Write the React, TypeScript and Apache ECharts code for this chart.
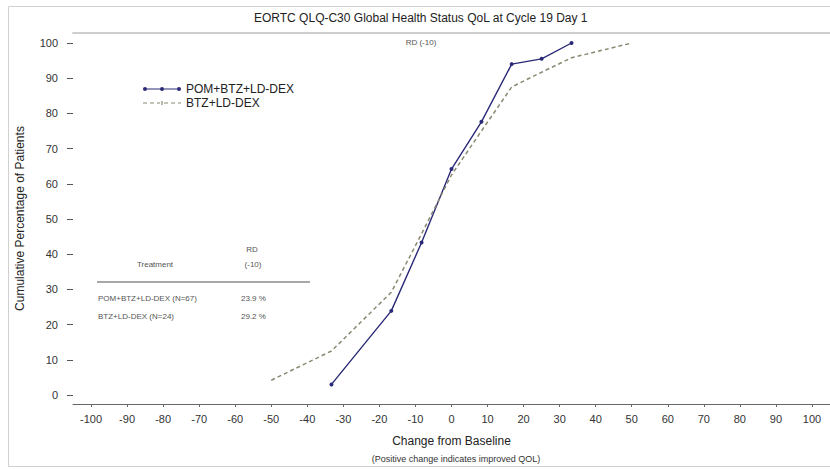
import React, { useEffect, useRef } from "react";
import * as echarts from "echarts";

const titleText = "EORTC QLQ-C30 Global Health Status QoL at Cycle 19 Day 1";
const seriesNames = ["POM+BTZ+LD-DEX", "BTZ+LD-DEX"];
const pomX = [-33.3, -16.7, -8.3, 0, 8.3, 16.7, 25, 33.3];
const pomY = [3.0, 23.9, 43.3, 64.2, 77.6, 94.0, 95.5, 100];
const btzX = [-50, -33.3, -16.7, -8.3, 0, 8.3, 16.7, 25, 33.3, 50];
const btzY = [4.2, 12.5, 29.2, 45.8, 62.5, 75.0, 87.5, 91.7, 95.8, 100];
const xTicks = [-100, -90, -80, -70, -60, -50, -40, -30, -20, -10, 0, 10, 20, 30, 40, 50, 60, 70, 80, 90, 100];
const yTicks = [0, 10, 20, 30, 40, 50, 60, 70, 80, 90, 100];
const tableHeader = ["Treatment", "RD", "(-10)"];
const tableRows = [
  ["POM+BTZ+LD-DEX (N=67)", "23.9 %"],
  ["BTZ+LD-DEX (N=24)", "29.2 %"],
];

const FONT = "Liberation Sans, Arial, sans-serif";
const SOLID = "#2a2a78";
const DASHED = "#8a8a72";

const dot = (cx: number, cy: number, r: number) =>
  `M${cx - r},${cy} a${r},${r} 0 1,1 ${2 * r},0 a${r},${r} 0 1,1 ${-2 * r},0 Z`;
const solidIcon =
  "path://M0,1.4 L38,1.4 L38,2.6 L0,2.6 Z " + dot(2, 2, 2) + " " + dot(19, 2, 2) + " " + dot(36, 2, 2);
const dashedIcon =
  "path://M0,1.4 L4,1.4 L4,2.6 L0,2.6 Z M7,1.4 L11,1.4 L11,2.6 L7,2.6 Z M14,1.4 L17,1.4 L17,2.6 L14,2.6 Z " +
  "M18.4,0 L19.6,0 L19.6,4 L18.4,4 Z M21,1.4 L25,1.4 L25,2.6 L21,2.6 Z M28,1.4 L32,1.4 L32,2.6 L28,2.6 Z M35,1.4 L38,1.4 L38,2.6 L35,2.6 Z";

export default function App() {
  const ref = useRef<HTMLDivElement>(null);
  useEffect(() => {
    if (!ref.current) return;
    const chart = echarts.init(ref.current, null, { renderer: "svg" });
    const pomData = pomX.map((x, i) => [x, pomY[i]]);
    const btzData = btzX.map((x, i) => [x, btzY[i]]);
    const tableText = (text: string, x: number, y: number, align = "left") => ({
      type: "text",
      x,
      y,
      style: {
        text,
        fill: "#555",
        font: `8px ${FONT}`,
        textAlign: align,
        textVerticalAlign: "middle",
      },
    });
    const frameLine = (x1: number, y1: number, x2: number, y2: number) => ({
      type: "line",
      shape: { x1, y1, x2, y2 },
      style: { stroke: "#d0d0d0", lineWidth: 1 },
      silent: true,
      z: -1,
    });
    chart.setOption({
      animation: false,
      backgroundColor: "#fff",
      textStyle: { fontFamily: FONT },
      title: {
        text: titleText,
        left: 249,
        top: 7,
        textStyle: { fontSize: 12, fontWeight: "normal", color: "#222", fontFamily: FONT },
      },
      legend: {
        left: 138,
        top: 78,
        orient: "vertical",
        itemWidth: 38,
        itemHeight: 4,
        itemGap: 2,
        textStyle: { fontSize: 12, color: "#222", fontFamily: FONT },
        data: [
          { name: seriesNames[0], icon: solidIcon, itemStyle: { color: SOLID, borderWidth: 0 } },
          { name: seriesNames[1], icon: dashedIcon, itemStyle: { color: DASHED, borderWidth: 0 } },
        ],
      },
      grid: { left: 73, right: -11, top: 33, bottom: 66, containLabel: false },
      xAxis: [
        {
          type: "value",
          min: -105,
          max: 105,
          position: "bottom",
          name: "Change from Baseline",
          nameLocation: "middle",
          nameGap: 31,
          nameTextStyle: { fontSize: 12, color: "#222", fontFamily: FONT },
          axisLine: { show: true, onZero: false, lineStyle: { color: "#666", width: 1 } },
          axisTick: { show: true, length: 3, customValues: xTicks, lineStyle: { color: "#666" } },
          axisLabel: { customValues: xTicks, fontSize: 11, color: "#333", margin: 9, fontFamily: FONT },
          splitLine: { show: false },
        },
        {
          type: "value",
          min: -105,
          max: 105,
          position: "top",
          axisLine: { show: true, onZero: false, lineStyle: { color: "#cfcfcf", width: 2 } },
          axisTick: { show: false },
          axisLabel: { show: false },
          splitLine: { show: false },
        },
      ],
      yAxis: {
        type: "value",
        min: -2.56,
        max: 102.84,
        position: "left",
        name: "Cumulative Percentage of Patients",
        nameLocation: "middle",
        nameGap: 47,
        nameTextStyle: { fontSize: 12, color: "#222", fontFamily: FONT },
        axisLine: { show: false, onZero: false },
        axisTick: { show: true, inside: false, length: 6, customValues: yTicks, lineStyle: { color: "#555" } },
        axisLabel: { customValues: yTicks, fontSize: 11, color: "#333", margin: 15, fontFamily: FONT },
        splitLine: { show: false },
      },
      series: [
        {
          name: seriesNames[0],
          type: "line",
          data: pomData,
          xAxisIndex: 0,
          symbol: "circle",
          symbolSize: 4,
          itemStyle: { color: SOLID },
          lineStyle: { color: SOLID, width: 1.4 },
        },
        {
          name: seriesNames[1],
          type: "line",
          data: btzData,
          xAxisIndex: 0,
          symbol: "none",
          itemStyle: { color: DASHED },
          lineStyle: { color: DASHED, width: 1.5, type: [4, 3] },
        },
      ],
      graphic: [
        frameLine(8.5, 6.5, 830, 6.5),
        frameLine(8.5, 6.5, 8.5, 466.5),
        frameLine(8.5, 466.5, 830, 466.5),
        tableText("RD (-10)", 421, 42, "center"),
        {
          type: "text",
          x: 456,
          y: 459,
          style: {
            text: "(Positive change indicates improved QOL)",
            fill: "#333",
            font: `9px ${FONT}`,
            textAlign: "center",
            textVerticalAlign: "middle",
          },
        },
        tableText(tableHeader[0], 155, 264, "center"),
        tableText(tableHeader[1], 252, 249, "center"),
        tableText(tableHeader[2], 253, 264, "center"),
        {
          type: "line",
          shape: { x1: 97, y1: 282, x2: 310, y2: 282 },
          style: { stroke: "#a8a8a8", lineWidth: 2 },
        },
        tableText(tableRows[0][0], 98, 298),
        tableText(tableRows[0][1], 241, 298),
        tableText(tableRows[1][0], 98, 316),
        tableText(tableRows[1][1], 241, 316),
      ],
    });
    return () => chart.dispose();
  }, []);
  return (
    <div
      ref={ref}
      style={{ position: "absolute", left: 0, top: 0, width: 830, height: 470 }}
    />
  );
}
